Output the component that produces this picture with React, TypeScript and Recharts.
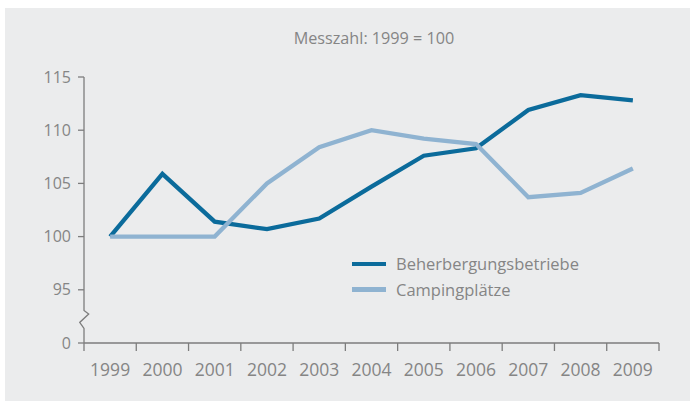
import { Legend, Line, LineChart, XAxis, YAxis } from "recharts";

if (typeof document !== "undefined") {
  document.body.style.margin = "0";
}

const years = [1999, 2000, 2001, 2002, 2003, 2004, 2005, 2006, 2007, 2008, 2009];
const beherbergung = [100, 105.9, 101.4, 100.7, 101.7, 104.7, 107.6, 108.3, 111.9, 113.3, 112.8];
const camping = [100, 100, 100, 105.0, 108.4, 110.0, 109.2, 108.7, 103.7, 104.1, 106.4];
// 90 sits where the broken axis shows "0"
const yTicks = [90, 95, 100, 105, 110, 115];

const rows = years.map((year, i) => ({
  year,
  beherbergung: beherbergung[i],
  camping: camping[i],
}));

// labels at the years, tick marks between them
const xTicks = [...years.map((y) => y - 0.5), ...years, years[years.length - 1] + 0.5].sort(
  (a, b) => a - b
);

const W = 690;
const H = 401;
const margin = { top: 77, right: 31, bottom: 0, left: 0 };
const yAxisWidth = 84;
const xAxisHeight = 58;
const plotBottom = H - xAxisHeight;

const grey = "#858585";
const axisGrey = "#7d7d7d";
const dark = "#0b6b9b";
const light = "#8fb3d1";
const font = "'Open Sans', sans-serif";

function XTick(props: any) {
  const { x, y, payload } = props;
  const v = payload.value as number;
  if (!Number.isInteger(v)) {
    return <line x1={x} x2={x} y1={y} y2={y + 8} stroke={axisGrey} strokeWidth={1.3} />;
  }
  return (
    <text x={x} y={y + 33} textAnchor="middle" fill={grey} fontSize={17.5} fontFamily={font}>
      {v}
    </text>
  );
}

function LegendBox(props: any) {
  const items = props.payload ?? [];
  return (
    <div style={{ fontFamily: font, fontSize: 16.5, color: grey }}>
      {items.map((it: any) => (
        <div key={it.value} style={{ display: "flex", alignItems: "center", height: 25.5 }}>
          <span
            style={{ width: 34, height: 4.5, background: it.color, marginRight: 10, display: "inline-block" }}
          />
          <span>{it.value}</span>
        </div>
      ))}
    </div>
  );
}

export default function App() {
  const x0 = yAxisWidth;
  return (
    <div style={{ position: "relative", width: W, height: H, background: "#fff" }}>
      <div
        style={{ position: "absolute", left: 5, top: 8, right: 0, bottom: 0, background: "#ebeced" }}
      />
      <div style={{ position: "absolute", left: 0, top: 0 }}>
        <LineChart width={W} height={H} data={rows} margin={margin}>
          <XAxis
            dataKey="year"
            type="number"
            domain={[1998.5, 2009.5]}
            ticks={xTicks}
            interval={0}
            tickSize={0}
            tickMargin={0}
            tickLine={false}
            tick={<XTick />}
            height={xAxisHeight}
            axisLine={{ stroke: axisGrey, strokeWidth: 1.3 }}
          />
          <YAxis
            type="number"
            domain={[90, 115]}
            ticks={yTicks}
            interval={0}
            width={yAxisWidth}
            axisLine={false}
            tickSize={6}
            tickMargin={7}
            tickLine={{ stroke: axisGrey, strokeWidth: 1.3 }}
            tickFormatter={(v: number) => (v === 90 ? "0" : String(v))}
            tick={{ fill: grey, fontSize: 16, fontFamily: font }}
          />
          <Legend
            layout="vertical"
            align="center"
            verticalAlign="middle"
            wrapperStyle={{ left: 352, top: 251, width: 260 }}
            content={<LegendBox />}
          />
          <Line
            dataKey="beherbergung"
            name="Beherbergungsbetriebe"
            stroke={dark}
            strokeWidth={4.3}
            dot={false}
            isAnimationActive={false}
          />
          <Line
            dataKey="camping"
            name="Campingplätze"
            stroke={light}
            strokeWidth={4.3}
            dot={false}
            isAnimationActive={false}
          />
        </LineChart>
      </div>
      <svg
        width={W}
        height={H}
        style={{ position: "absolute", left: 0, top: 0, pointerEvents: "none" }}
      >
        <text
          x={374}
          y={43.5}
          textAnchor="middle"
          fill={grey}
          fontSize={16.2}
          fontFamily={font}
        >
          Messzahl: 1999 = 100
        </text>
        <path
          d={`M${x0},${margin.top} L${x0},${plotBottom - 32.6} L${x0 + 4.7},${plotBottom - 29} L${x0 - 4.3},${plotBottom - 20.6} L${x0},${plotBottom - 14.6} L${x0},${plotBottom}`}
          fill="none"
          stroke={axisGrey}
          strokeWidth={1.3}
        />
      </svg>
    </div>
  );
}
